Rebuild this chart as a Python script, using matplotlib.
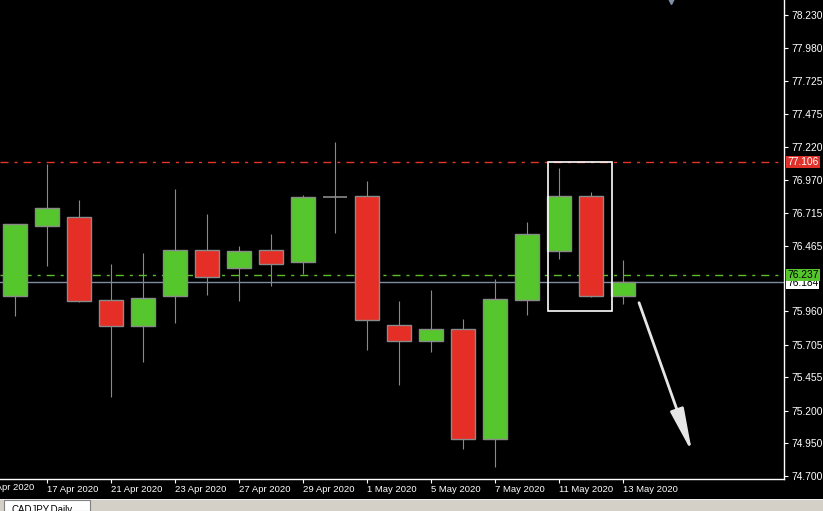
import numpy as np
import matplotlib
matplotlib.use("Agg")
import matplotlib.pyplot as plt
import matplotlib.transforms as mtransforms
from matplotlib.patches import Rectangle

plt.rcParams["font.family"] = ["Liberation Sans", "DejaVu Sans"]

# CADJPY daily candles, 16 Apr 2020 .. 13 May 2020
dates = ["16 Apr 2020", "17 Apr 2020", "20 Apr 2020", "21 Apr 2020", "22 Apr 2020",
         "23 Apr 2020", "24 Apr 2020", "27 Apr 2020", "28 Apr 2020", "29 Apr 2020",
         "30 Apr 2020", "1 May 2020", "4 May 2020", "5 May 2020", "6 May 2020",
         "7 May 2020", "8 May 2020", "11 May 2020", "12 May 2020", "13 May 2020"]
opens = [76.081, 76.617, 76.681, 76.045, 75.849, 76.081, 76.428, 76.295, 76.428, 76.336,
         76.834, 76.842, 75.856, 75.736, 75.823, 74.981, 76.050, 76.421, 76.842, 76.081]
closes = [76.627, 76.750, 76.038, 75.849, 76.061, 76.428, 76.226, 76.421, 76.326, 76.834,
          76.834, 75.895, 75.736, 75.823, 74.981, 76.053, 76.551, 76.842, 76.081, 76.184]
highs = [76.630, 77.089, 76.813, 76.323, 76.405, 76.898, 76.706, 76.461, 76.553, 76.852,
         77.260, 76.959, 76.040, 76.124, 75.900, 76.209, 76.645, 77.058, 76.875, 76.354]
lows = [75.928, 76.310, 76.030, 75.307, 75.575, 75.874, 76.088, 76.042, 76.157, 76.249,
        76.563, 75.665, 75.397, 75.652, 74.907, 74.771, 75.935, 76.362, 76.071, 76.019]

price_ticks = [78.230, 77.980, 77.725, 77.475, 77.220, 76.970, 76.715, 76.465,
               75.960, 75.705, 75.455, 75.200, 74.950, 74.700]
first_label = "15 Apr 2020"  # label of the bar just left of the window

resistance = 77.106
support = 76.237
last_price = 76.184

# box around the 11/12 May candles and the drawn arrow
box_x = [16.64, 18.64]
box_y = [75.961, 77.102]
arrow_start = (19.5, 76.027)
arrow_end = (21.16, 74.879)

GREEN = "#55c62b"
RED = "#e52f26"
EDGE = "#8a8a8a"

fig = plt.figure(figsize=(8.23, 5.11), dpi=100, facecolor="black")
ax = fig.add_axes([0, 32 / 511, 784 / 823, 479 / 511], facecolor="black")

x = np.arange(len(dates))
o = np.array(opens)
c = np.array(closes)

# wicks
ax.vlines(x, lows, highs, color=EDGE, lw=0.8, zorder=2)

# bodies
up = c > o
down = c < o
ax.bar(x[up], (c - o)[up], bottom=o[up], width=0.75, color=GREEN,
       edgecolor=EDGE, lw=1, zorder=3)
ax.bar(x[down], (o - c)[down], bottom=c[down], width=0.75, color=RED,
       edgecolor=EDGE, lw=1, zorder=3)
doji = c == o
ax.hlines(c[doji], x[doji] - 0.38, x[doji] + 0.38, color=EDGE, lw=1.2, zorder=3)

# horizontal levels
ax.axhline(resistance, color="#e0362c", lw=1, dashes=(5.8, 4.3, 2.2, 4.3), zorder=1)
ax.axhline(support, color="#5cbf2a", lw=1, dashes=(5.8, 4.3, 2.2, 4.3), zorder=1)
ax.axhline(last_price, color="#7d8aa0", lw=1, zorder=1)

# rectangle + arrow
ax.add_patch(Rectangle((box_x[0], box_y[0]), box_x[1] - box_x[0], box_y[1] - box_y[0],
                       fill=False, ec="white", lw=1.2, zorder=4))
ax.annotate("", xy=arrow_end, xytext=arrow_start,
            arrowprops=dict(arrowstyle="-|>,head_length=2.2,head_width=0.35",
                            mutation_scale=12, lw=2, color="#e6e6e6",
                            shrinkA=0, shrinkB=0), zorder=5)

# chart shift marker at the top
ax.plot([20.5], [78.336], marker="v", ms=4, color="#8090a8", clip_on=False)

ax.set_xlim(-0.47, 24.03)
ax.set_ylim(74.677, 78.345)

for s in ["top", "left"]:
    ax.spines[s].set_visible(False)
for s in ["right", "bottom"]:
    ax.spines[s].set_color("white")
    ax.spines[s].set_linewidth(1)

ax.yaxis.tick_right()
ax.set_yticks(price_ticks)
ax.set_yticklabels([f"{p:.3f}" for p in price_ticks])
ax.tick_params(axis="y", colors="white", length=3, width=0.8, labelsize=7.4, pad=2)

ax.set_xticks(x[1::2])
ax.set_xticklabels(dates[1::2], ha="left")
ax.tick_params(axis="x", colors="white", length=3, width=0.8, labelsize=6.8, pad=1)

trans = mtransforms.blended_transform_factory(ax.transData, ax.transAxes)
ax.text(-1.0, -0.008, first_label, transform=trans, ha="left", va="top",
        fontsize=6.8, color="white", clip_on=False)

# price tags on the right scale (green one sits on top of the white one)
ytrans = mtransforms.blended_transform_factory(ax.transAxes, ax.transData)
tags = [(resistance, "#e0302a", "white", 0.0),
        (last_price, "white", "black", -0.005),
        (support, "#55c62b", "black", 0.003)]
for val, bg, fg, nudge in tags:
    ax.text(1.004, val + nudge, f"{val:.3f}", transform=ytrans, ha="left", va="center",
            fontsize=7.4, color=fg, clip_on=False,
            bbox=dict(boxstyle="square,pad=0.1", fc=bg, ec="none"))

# terminal tab strip at the bottom
fig.add_artist(Rectangle((0, 0), 1, 11 / 511, transform=fig.transFigure,
                         fc="#d4d0c8", ec="none"))
fig.add_artist(Rectangle((0, 11 / 511), 1, 1.5 / 511, transform=fig.transFigure,
                         fc="#f0f0f0", ec="none"))
fig.add_artist(Rectangle((4 / 823, 0), 86 / 823, 11 / 511, transform=fig.transFigure,
                         fc="white", ec="#808080", lw=0.8))
fig.text(12 / 823, 6 / 511, "CADJPY,Daily", fontsize=7, color="black",
         ha="left", va="top")

fig.savefig("out.png", dpi=100, facecolor="black")
